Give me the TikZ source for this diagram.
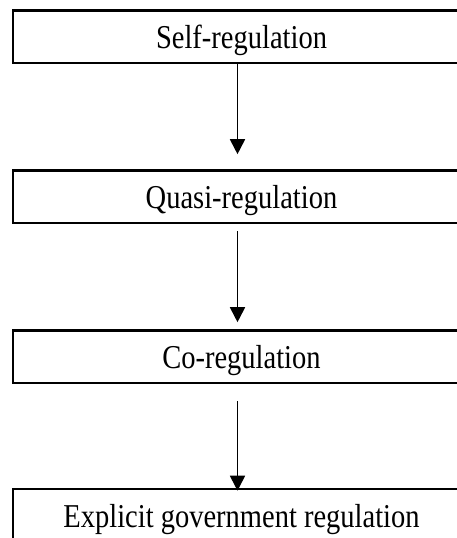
\documentclass[tikz,border=0pt]{standalone}
\usepackage{fontspec}
\setmainfont{Liberation Serif}
\usepackage{graphicx}
\usetikzlibrary{arrows.meta}
\tikzset{
  regbox/.style={draw, line width=2.6pt, rectangle, minimum width=457pt, minimum height=52.5pt,
    inner sep=0pt, text height=29pt, text depth=5pt,
    font=\fontsize{28.5}{34}\selectfont},
  flow/.style={line width=1.8pt, -{Triangle[length=15pt,width=15pt]}}
}
\newcommand{\stretchtxt}[1]{\scalebox{1}[1.17]{#1}}
\begin{document}
\begin{tikzpicture}[x=1pt,y=-1pt]
\clip (0,0) rectangle (457,538);
\useasboundingbox (0,0) rectangle (457,538);
\node[regbox] (b1) at (241.5,36.75) {\stretchtxt{Self-regulation}};
\node[regbox] (b2) at (241.5,196.75) {\stretchtxt{Quasi-regulation}};
\node[regbox] (b3) at (241.5,356.75) {\stretchtxt{Co-regulation}};
\node[regbox] (b4) at (241.5,515.25) {\stretchtxt{Explicit government regulation}};
\draw[flow, shorten <=0pt, shorten >=15pt] ([xshift=-4pt]b1.south) -- ([xshift=-4pt]b2.north);
\draw[flow, shorten <=7pt, shorten >=7pt] ([xshift=-4pt]b2.south) -- ([xshift=-4pt]b3.north);
\draw[flow, shorten <=17pt, shorten >=-3pt] ([xshift=-4pt]b3.south) -- ([xshift=-4pt]b4.north);
\end{tikzpicture}
\end{document}
